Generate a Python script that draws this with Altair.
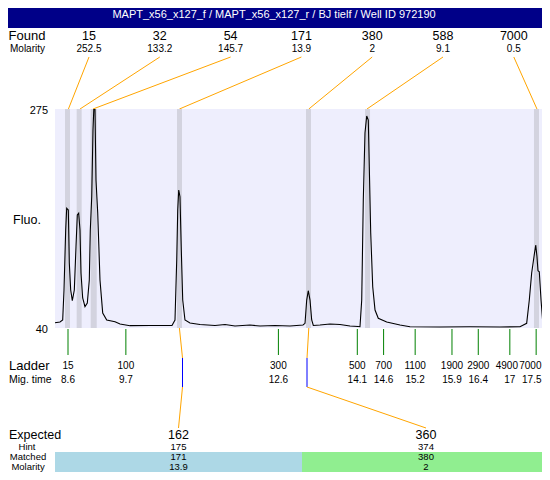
import altair as alt
import pandas as pd

FONT = "Liberation Sans"
TITLE = "MAPT_x56_x127_f / MAPT_x56_x127_r / BJ tielf / Well ID 972190"

# ---------------- data ----------------
TRACE_TIME = [8.353, 8.448, 8.499, 8.524, 8.556, 8.575, 8.606, 8.625, 8.651, 8.682,
              8.720, 8.752, 8.777, 8.803, 8.828, 8.847, 8.879, 8.923, 8.967, 9.005,
              9.024, 9.051, 9.075, 9.091, 9.113, 9.132, 9.165, 9.208, 9.260, 9.336,
              9.494, 9.589, 9.779, 10.159, 10.577, 10.634, 10.667, 10.686, 10.705, 10.729,
              10.754, 10.781, 10.824, 10.919, 11.109, 11.395, 11.585, 11.775, 12.060, 12.250,
              12.535, 12.821, 13.068, 13.106, 13.138, 13.168, 13.201, 13.233, 13.264, 13.391,
              13.581, 13.771, 13.961, 14.113, 14.151, 14.184, 14.214, 14.246, 14.279, 14.309,
              14.328, 14.355, 14.393, 14.437, 14.499, 14.659, 14.912, 15.102, 15.672, 16.243,
              16.813, 17.193, 17.320, 17.370, 17.415, 17.459, 17.492, 17.516, 17.535, 17.560,
              17.593, 17.625, 17.655, 17.701, 17.726]
TRACE_FLUO = [45.7, 46.4, 48.6, 80.8, 145.2, 168.4, 166.6, 109.8, 80.8, 69.3,
              80.8, 127.2, 161.3, 163.1, 145.2, 99.0, 72.2, 62.9, 66.8, 91.5,
              145.2, 180.9, 252.5, 275, 275, 198.8, 163.4, 91.5, 56.1, 48.6,
              46.8, 44.3, 42.5, 42.7, 42.7, 48.6, 113.0, 166.6, 188.1, 180.9,
              123.7, 70.0, 48.6, 45.4, 43.8, 42.7, 43.8, 42.1, 43.2, 42.1,
              42.7, 42.1, 43.2, 45.0, 70.0, 80.0, 70.0, 48.6, 42.7, 43.2,
              44.3, 43.8, 42.1, 41.6, 41.4, 70.0, 177.4, 249.2, 267.5, 263.2,
              213.1, 141.9, 84.3, 59.3, 50.4, 46.4, 43.2, 41.4, 41.1, 41.4,
              41.1, 41.4, 45.0, 70.0, 99.0, 116.5, 129.1, 116.5, 101.5, 100.4,
              70.0, 46.8, 48.6, 45.7, 41.4]

FOUND_SIZE = ["15", "32", "54", "171", "380", "588", "7000"]
FOUND_MOLARITY = ["252.5", "133.2", "145.7", "13.9", "2", "9.1", "0.5"]
FOUND_TIME = [8.608, 8.828, 9.075, 10.718, 13.178, 14.284, 17.516]
PEAK_START = [8.543, 8.765, 9.032, 10.672, 13.125, 14.247, 17.459]
PEAK_END = [8.638, 8.860, 9.146, 10.767, 13.220, 14.342, 17.554]

LADDER_SIZE = ["15", "100", "300", "500", "700", "1100", "1900", "2900", "4900", "7000"]
LADDER_TIME = [8.6, 9.7, 12.6, 14.1, 14.6, 15.2, 15.9, 16.4, 17, 17.5]

EXPECTED = ["162", "360"]
HINT = ["175", "374"]
HINT_TIME = [10.777, 13.144]
MATCHED = ["171", "380"]
MATCHED_TIME = [10.718, 13.178]
MATCHED_MOLARITY = ["13.9", "2"]

Y_MIN, Y_MAX = 40, 275

# ---------------- layout ----------------
W = 534
PX_PER_MIN = 52.6
T_LEFT = 7.4593
T_RIGHT = T_LEFT + W / PX_PER_MIN


def t_at(px):
    return T_LEFT + px / PX_PER_MIN


xs = alt.Scale(domain=[T_LEFT, T_RIGHT], nice=False, zero=False)
ys = alt.Scale(domain=[Y_MIN, Y_MAX], nice=False, zero=False)
ORANGE = "#FFA500"
one = pd.DataFrame({"k": [0]})


def label(text, x, y, size, align="center"):
    return alt.Chart(pd.DataFrame({"t": [text]})).mark_text(
        fontSize=size, font=FONT, align=align, color="black"
    ).encode(x=alt.value(x), y=alt.value(y), text="t:N")


# --- title bar
H1 = 20
p1 = alt.layer(
    alt.Chart(one).mark_rect(color="#000088").encode(
        x=alt.value(0), x2=alt.value(W), y=alt.value(0), y2=alt.value(H1)),
    alt.Chart(pd.DataFrame({"t": [TITLE]})).mark_text(
        color="white", fontSize=11, font=FONT).encode(
        x=alt.value(266), y=alt.value(6.5), text="t:N"),
).properties(width=W, height=H1)

# --- found panel
H2 = 81
found_df = pd.DataFrame({
    "size": FOUND_SIZE, "mol": FOUND_MOLARITY, "peak": FOUND_TIME,
    "slot": [t_at(81 + 70.8 * i) for i in range(len(FOUND_SIZE))],
})
p2 = alt.layer(
    alt.Chart(found_df).mark_rule(color=ORANGE, strokeWidth=1).encode(
        x=alt.X("slot:Q", scale=xs, axis=None), x2="peak:Q",
        y=alt.value(29), y2=alt.value(H2)),
    alt.Chart(found_df).mark_text(fontSize=12.5, font=FONT).encode(
        x=alt.X("slot:Q", scale=xs, axis=None), y=alt.value(8), text="size:N"),
    alt.Chart(found_df).mark_text(fontSize=10, font=FONT).encode(
        x=alt.X("slot:Q", scale=xs, axis=None), y=alt.value(21), text="mol:N"),
    label("Found", 19, 8, 13),
    label("Molarity", 19.5, 21, 10),
).properties(width=W, height=H2)

# --- main electropherogram
H3 = 219
trace_df = pd.DataFrame({"time": TRACE_TIME, "fluo": TRACE_FLUO})
peaks_df = pd.DataFrame({"start": PEAK_START, "end": PEAK_END})
ylab_df = pd.DataFrame({"v": [Y_MAX, Y_MIN], "t": [str(Y_MAX), str(Y_MIN)]})
p3 = alt.layer(
    alt.Chart(one).mark_rect(color="#EEEEFD").encode(
        x=alt.value(47), x2=alt.value(W), y=alt.value(0), y2=alt.value(H3)),
    alt.Chart(peaks_df).mark_rect(color="#D3D3DF").encode(
        x=alt.X("start:Q", scale=xs, axis=None), x2="end:Q",
        y=alt.value(0), y2=alt.value(H3)),
    alt.Chart(trace_df).mark_line(color="black", strokeWidth=1.1, clip=True).encode(
        x=alt.X("time:Q", scale=xs, axis=None),
        y=alt.Y("fluo:Q", scale=ys, axis=None)),
    alt.Chart(ylab_df).mark_text(fontSize=11, font=FONT, align="right", dy=2).encode(
        x=alt.value(40), y=alt.Y("v:Q", scale=ys, axis=None), text="t:N"),
    label("Fluo.", 19, 111, 12.5),
).properties(width=W, height=H3)

# --- ladder panel with connectors
H4 = 100
ladder_df = pd.DataFrame({"size": LADDER_SIZE, "time": LADDER_TIME})
inner = ladder_df.iloc[:-2]
near_edge = ladder_df.iloc[-2:-1]
edge = ladder_df.iloc[-1:]
COL_EDGES_PX = [47, 294, 542]
col_edges = [t_at(p) for p in COL_EDGES_PX]
exp_df = pd.DataFrame({
    "exp": EXPECTED, "hint": HINT, "matched": MATCHED, "mol": MATCHED_MOLARITY,
    "hint_t": HINT_TIME, "match_t": MATCHED_TIME,
    "start": col_edges[:-1], "end": [col_edges[1], t_at(W)],
    "center": [(col_edges[0] + col_edges[1]) / 2, (col_edges[1] + col_edges[2]) / 2],
    "col": ["a", "b"],
})
edge_dx = W - 0.5 - (LADDER_TIME[-1] - T_LEFT) * PX_PER_MIN


def ladder_text(df, field, y, fmt=None, **kw):
    txt = alt.Text(field, format=fmt) if fmt else alt.Text(field)
    return alt.Chart(df).mark_text(fontSize=10, font=FONT, **kw).encode(
        x=alt.X("time:Q", scale=xs, axis=None), y=alt.value(y), text=txt)


p4 = alt.layer(
    alt.Chart(ladder_df).mark_rule(color="#008000", strokeWidth=1).encode(
        x=alt.X("time:Q", scale=xs, axis=None), y=alt.value(1), y2=alt.value(27)),
    ladder_text(inner, "size:N", 38),
    ladder_text(near_edge, "size:N", 38, None, dx=-3),
    ladder_text(edge, "size:N", 38, None, align="right", dx=edge_dx),
    ladder_text(ladder_df.iloc[:-1], "time:Q", 52, "~g"),
    ladder_text(edge, "time:Q", 52, "~g", align="right", dx=edge_dx),
    alt.Chart(exp_df).mark_rule(color=ORANGE, strokeWidth=1).encode(
        x=alt.X("match_t:Q", scale=xs, axis=None), x2="hint_t:Q",
        y=alt.value(0), y2=alt.value(30)),
    alt.Chart(exp_df).mark_rule(color="#0000FF", strokeWidth=1).encode(
        x=alt.X("hint_t:Q", scale=xs, axis=None),
        y=alt.value(30), y2=alt.value(59)),
    alt.Chart(exp_df).mark_rule(color=ORANGE, strokeWidth=1).encode(
        x=alt.X("hint_t:Q", scale=xs, axis=None), x2="center:Q",
        y=alt.value(59), y2=alt.value(H4)),
    label("Ladder", 1, 38, 13, align="left"),
    label("Mig. time", 1, 52, 10.5, align="left"),
).properties(width=W, height=H4)

# --- expected / matched panel
H5 = 44
p5 = alt.layer(
    alt.Chart(exp_df).mark_rect().encode(
        x=alt.X("start:Q", scale=xs, axis=None), x2="end:Q",
        y=alt.value(24), y2=alt.value(H5),
        color=alt.Color("col:N", scale=alt.Scale(domain=["a", "b"],
                                                 range=["#ADD8E6", "#90EE90"]),
                        legend=None)),
    alt.Chart(exp_df).mark_text(fontSize=12.5, font=FONT).encode(
        x=alt.X("center:Q", scale=xs, axis=None), y=alt.value(7), text="exp:N"),
    alt.Chart(exp_df).mark_text(fontSize=9.5, font=FONT).encode(
        x=alt.X("center:Q", scale=xs, axis=None), y=alt.value(18.8), text="hint:N"),
    alt.Chart(exp_df).mark_text(fontSize=9.5, font=FONT).encode(
        x=alt.X("center:Q", scale=xs, axis=None), y=alt.value(28.9), text="matched:N"),
    alt.Chart(exp_df).mark_text(fontSize=9.5, font=FONT).encode(
        x=alt.X("center:Q", scale=xs, axis=None), y=alt.value(39), text="mol:N"),
    label("Expected", 1, 7, 12.5, align="left"),
    label("Hint", 19, 18.8, 9.5),
    label("Matched", 20, 28.9, 9.5),
    label("Molarity", 20, 39, 9.5),
).properties(width=W, height=H5)

chart = alt.vconcat(p1, p2, p3, p4, p5, spacing=0, bounds="flush").properties(
    padding=0, background="white"
).configure_view(strokeWidth=0).configure_concat(spacing=0)

chart.save("out.html", embed_options={"renderer": "svg", "actions": False})
